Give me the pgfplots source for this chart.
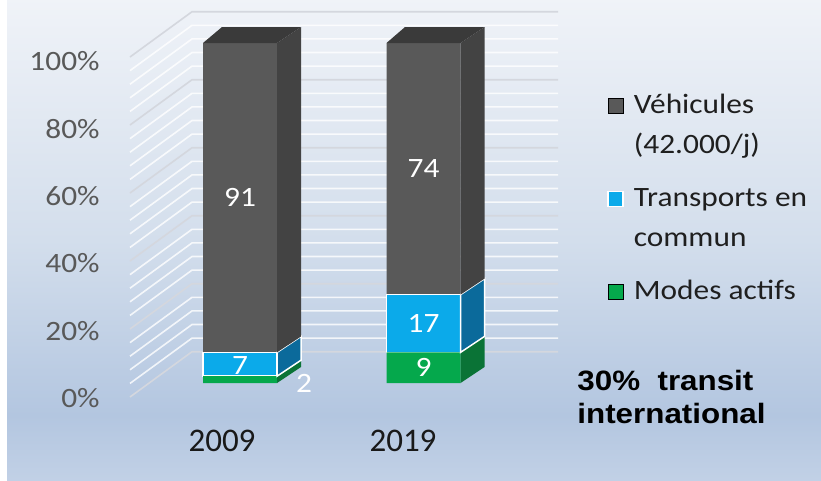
\documentclass[border=0pt]{standalone}
\usepackage{pgfplots}
\pgfplotsset{compat=1.18}
\usepackage{fontspec}
\setmainfont{Carlito}[FakeStretch=1.12]
\newfontfamily\yearfont{Carlito}
\newfontfamily\arialfont{Liberation Sans}[FakeStretch=1.12]
\definecolor{cgray}{HTML}{595959}
\definecolor{cgrayside}{HTML}{434343}
\definecolor{cgraytop}{HTML}{3A3A3A}
\definecolor{cblue}{HTML}{0BAAEA}
\definecolor{cblueside}{HTML}{0B6A9B}
\definecolor{cgreen}{HTML}{05A84C}
\definecolor{cgreenside}{HTML}{0A7336}
\definecolor{bgtop}{HTML}{F0F3F8}
\definecolor{bgmid}{HTML}{D3DEEC}
\definecolor{bgdark}{HTML}{B3C6E0}
\definecolor{bgbot}{HTML}{C2D1E6}
\definecolor{ticktext}{HTML}{595959}
\definecolor{gridmaj}{HTML}{D4D7DE}
\pgfdeclareverticalshading{bgshade}{100bp}{color(0bp)=(bgbot); color(25bp)=(bgbot); color(32bp)=(bgdark); color(50bp)=(bgmid); color(75bp)=(bgtop); color(100bp)=(bgtop)}
\pgfplotsset{base/.style={x=0.5pt, y=1.7pt, xmin=0, xmax=821, ymin=-28.53, ymax=112.65,
  clip=false, enlargelimits=false, axis line style={draw=none}, tick style={draw=none},
  xtick=\empty, ytick=\empty}}
\begin{document}
\begin{tikzpicture}
% background and walls
\begin{axis}[base]
\shade[shading=bgshade] (axis cs:-1,-29.5) rectangle (axis cs:822,113.5);
\fill[white] (axis cs:-1,-29.5) rectangle (axis cs:7,113.5);
\coordinate (bl) at (axis cs:0,-28.53);
\coordinate (tr) at (axis cs:821,112.65);
\pgfplotsinvokeforeach{4,8,12,16,24,28,32,36,44,48,52,56,64,68,72,76,84,88,92,96}{
  \draw[white, line width=0.8pt, opacity=0.8] (axis cs:130,{-4.12+#1}) -- (axis cs:192,{9.2+#1}) -- (axis cs:558,{9.2+#1});
}
\pgfplotsinvokeforeach{0,20,40,60,80,100}{
  \draw[gridmaj, line width=0.8pt] (axis cs:130,{-4.12+#1}) -- (axis cs:192,{9.2+#1}) -- (axis cs:558,{9.2+#1});
}
\end{axis}
% front faces of the bars, ticks, legend
\begin{axis}[base, ybar stacked, bar width=74,
  ytick={-4.4,15.4,35.2,55,74.8,94.6},
  yticklabels={0\%,20\%,40\%,60\%,80\%,100\%},
  yticklabel style={anchor=east, inner sep=0pt, xshift=50pt, text=ticktext, font=\fontsize{14}{17}\selectfont},
  xtick={222,403}, xticklabels={2009,2019},
  xticklabel style={anchor=center, inner sep=0pt, yshift=19.5pt, text=black!90, font=\yearfont\fontsize{16.5}{20}\selectfont},
  legend image code/.code={\filldraw[#1] (0pt,0pt) rectangle (7.5pt,7.5pt);},
  legend style={at={(axis cs:607,87.6)}, anchor=north west, draw=none, fill=none,
    inner sep=0pt, row sep=6.5pt, column sep=5pt, text=black!88,
    font=\fontsize{14}{20}\selectfont,
    nodes={inner sep=0pt, text depth=}, cells={anchor=base west}},
  reverse legend]
\addplot[fill=cgreen, draw=none] coordinates {(240,2) (423.5,9)};
\addplot[fill=cblue, draw=white, line width=0.75pt] coordinates {(240,7) (423.5,17)};
\addplot[fill=cgray, draw=none] coordinates {(240,91) (423.5,74)};
\addlegendentry{\strut Modes actifs}
\addlegendentry{\vtop{\hbox{\strut Transports en}\hbox{\strut commun}}}
\addlegendentry{\vtop{\hbox{\strut Véhicules}\hbox{\strut (42.000/j)}}}
\end{axis}
% side and top faces, value labels, note
\begin{axis}[base, no markers]
% 2009
\addplot[fill=cgreenside, draw=none] coordinates {(277,0) (301,4.7) (301,6.7) (277,2)} -- cycle;
\addplot[fill=cblueside, draw=white, line width=0.75pt] coordinates {(277,2) (301,6.7) (301,13.7) (277,9)} -- cycle;
\addplot[fill=cgrayside, draw=none] coordinates {(277,9) (301,13.7) (301,104.7) (277,100)} -- cycle;
\addplot[fill=cgraytop, draw=none] coordinates {(203,100) (222,104.7) (301,104.7) (277,100)} -- cycle;
% 2019
\addplot[fill=cgreenside, draw=none] coordinates {(460.5,0) (484.5,4.7) (484.5,13.7) (460.5,9)} -- cycle;
\addplot[fill=cblueside, draw=white, line width=0.75pt] coordinates {(460.5,9) (484.5,13.7) (484.5,30.7) (460.5,26)} -- cycle;
\addplot[fill=cgrayside, draw=none] coordinates {(460.5,26) (484.5,30.7) (484.5,104.7) (460.5,100)} -- cycle;
\addplot[fill=cgraytop, draw=none] coordinates {(386.5,100) (405,104.7) (484.5,104.7) (460.5,100)} -- cycle;
% value labels
\begin{scope}[every node/.style={text=white, font=\fontsize{14}{17}\selectfont, inner sep=0pt}]
\node at (axis cs:240,54.5) {91};
\node at (axis cs:240,5.2) {7};
\node at (axis cs:304,0) {2};
\node at (axis cs:423.5,63) {74};
\node at (axis cs:423.5,17.5) {17};
\node at (axis cs:423.5,4.5) {9};
\end{scope}
\node[anchor=north west, align=left, inner sep=0pt, text=black,
  font=\arialfont\bfseries\fontsize{14}{16.5}\selectfont] at (axis cs:577,3.8) {30\%\ \ transit\\international};
\end{axis}
\pgfresetboundingbox
\path[use as bounding box] (bl) rectangle (tr);
\end{tikzpicture}
\end{document}
